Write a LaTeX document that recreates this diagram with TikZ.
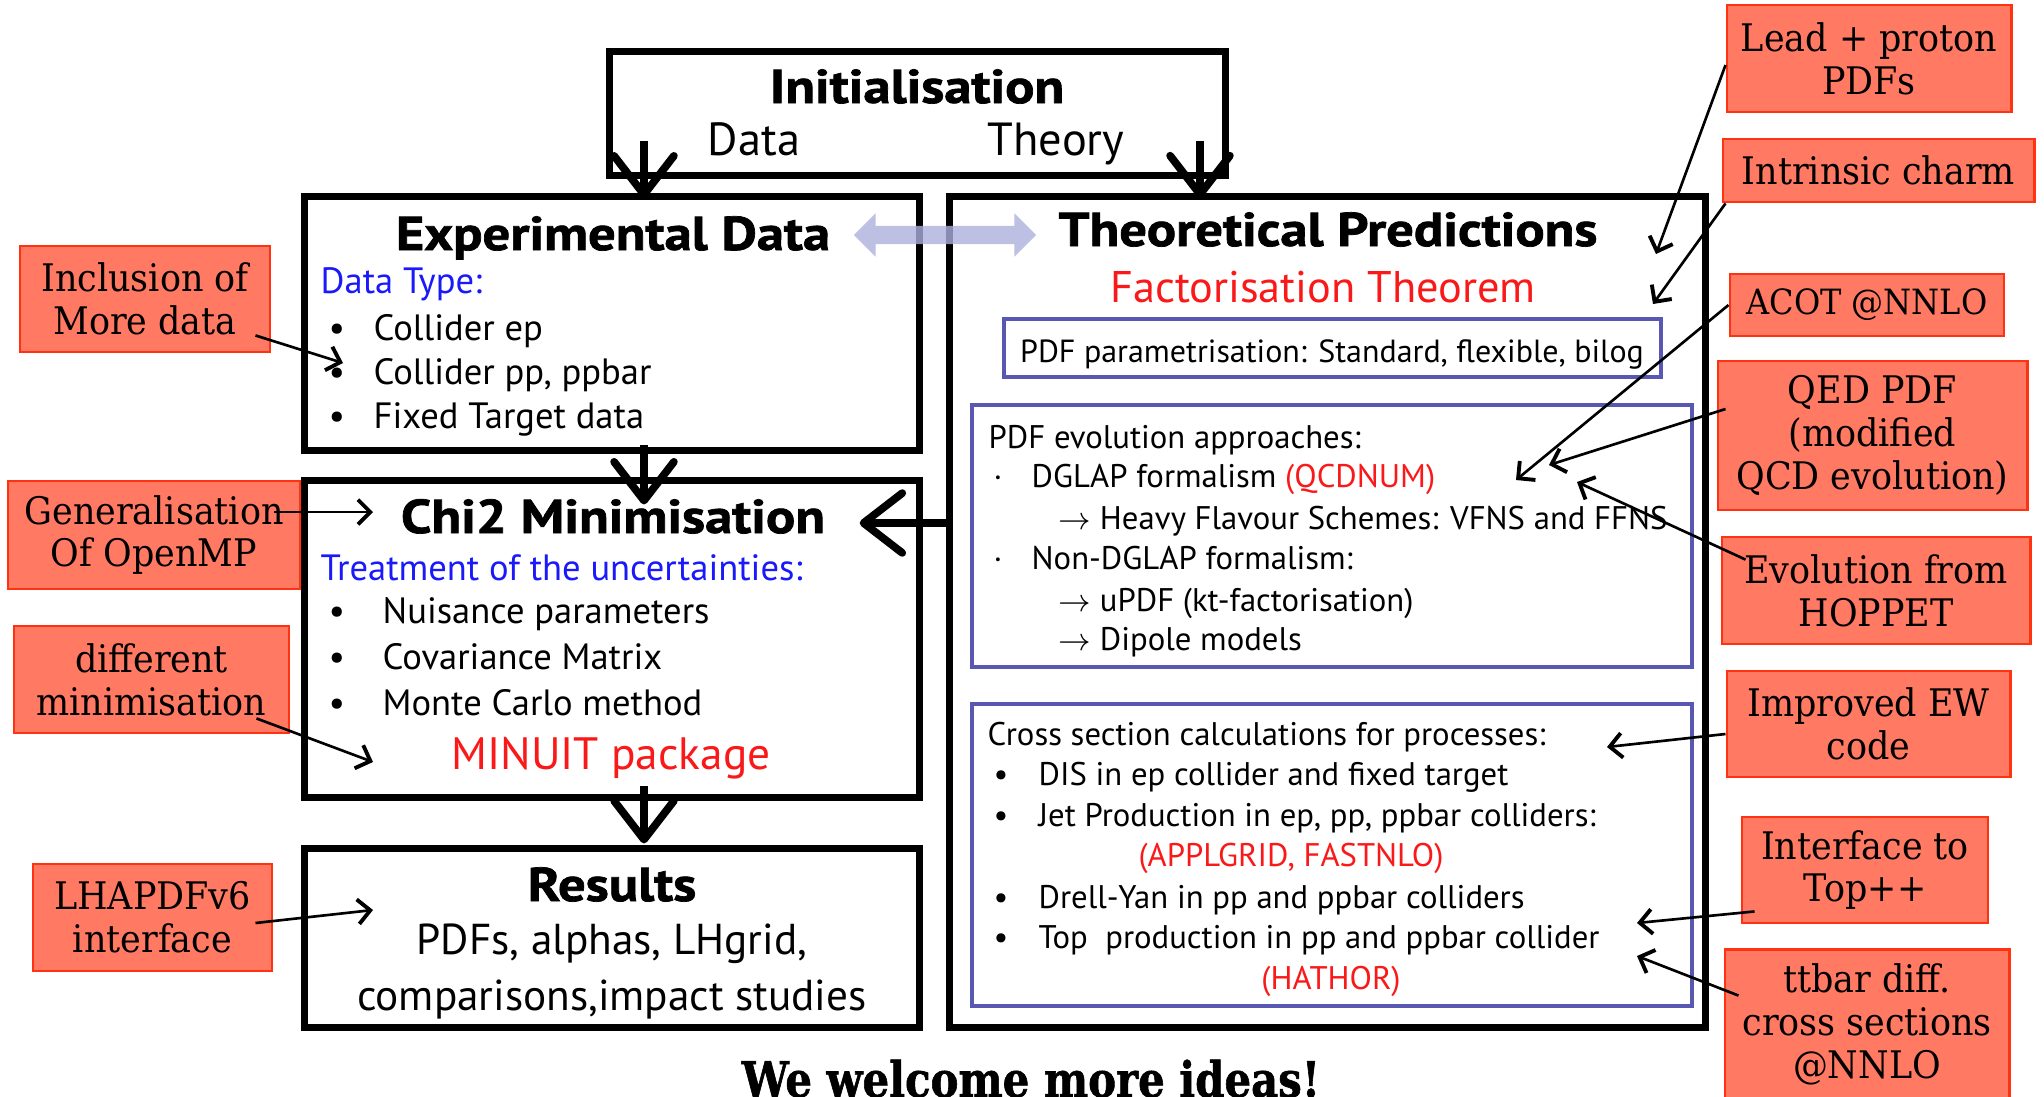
\documentclass[tikz,border=0pt]{standalone}
\usepackage{fontspec}
\setmainfont{PT Sans}
\newfontfamily\heavyfont{PT Sans}[FakeStretch=1.15, BoldFeatures={FakeBold=1.5}]
\newfontfamily\notefont{DejaVu Serif}[FakeStretch=0.92]
\newfontfamily\slabfont{DejaVu Serif}[FakeStretch=0.85, BoldFeatures={FakeBold=1.2}]
\usetikzlibrary{arrows.meta,shapes.arrows,calc}

\definecolor{notefill}{RGB}{255,121,99}
\definecolor{noteline}{RGB}{255,51,17}
\definecolor{framblue}{RGB}{88,88,178}
\definecolor{linkblue}{RGB}{172,176,220}
\definecolor{txtblue}{RGB}{25,25,250}
\definecolor{txtred}{RGB}{250,25,25}

\tikzset{
	mainbox/.style={draw, line width=2pt, inner sep=0pt},
	subbox/.style={draw=framblue, line width=1pt, inner sep=0pt},
	note/.style={draw=noteline, fill=notefill, line width=0.8pt, inner sep=0pt, align=center,
		font=\notefont\fontsize{10.8}{12.2}\selectfont},
	head/.style={anchor=base, inner sep=0pt, font=\heavyfont\bfseries\fontsize{13.5}{16}\selectfont},
	txt/.style={anchor=base west, inner sep=0pt, font=\fontsize{9.3}{11}\selectfont},
	bigtxt/.style={txt, font=\fontsize{10.4}{12}\selectfont},
	flow/.style={line width=2.2pt, -{Straight Barb[length=11pt,width=17pt,round]}},
	pointer/.style={line width=0.75pt, -{Straight Barb[length=3.5pt,width=7pt,line width=1.1pt]}},
}

\begin{document}
\begin{tikzpicture}[x=0.01cm,y=-0.01cm]
	\useasboundingbox (0,0) rectangle (2044,1096);
	% flow boxes
	\node[mainbox, minimum width=6.15cm, minimum height=1.23cm] (init) at (917.5,113.5) {};
	\node[mainbox, minimum width=6.14cm, minimum height=2.53cm] (expdata) at (612,323.5) {};
	\node[mainbox, minimum width=7.55cm, minimum height=8.30cm] (theory) at (1327.5,612) {};
	\node[mainbox, minimum width=6.14cm, minimum height=3.16cm] (chi2) at (612,639) {};
	\node[mainbox, minimum width=6.14cm, minimum height=1.78cm] (results) at (612,938) {};
	\node[subbox, minimum width=6.57cm, minimum height=0.58cm] (param) at (1332.5,348) {};
	\node[subbox, minimum width=7.20cm, minimum height=2.62cm] (evol) at (1332,536) {};
	\node[subbox, minimum width=7.20cm, minimum height=3.02cm] (xsec) at (1332,855) {};

	% titles
	\node[head] (inittitle) at (917,103) {Initialisation};
	\node[head, font=\fontsize{13.2}{15}\selectfont] (initdata) at (754,155) {Data};
	\node[head, font=\fontsize{13.2}{15}\selectfont] (inittheory) at (1056,155) {Theory};
	\node[head] (exptitle) at (613,250) {Experimental Data};
	\node[head] (thtitle) at (1328,246) {Theoretical Predictions};
	\node[head] (chititle) at (613,533) {Chi2 Minimisation};
	\node[head] (restitle) at (612,901) {Results};
	\node[head, font=\fontsize{12.6}{14}\selectfont, txtred] (fact) at (1323,302) {Factorisation Theorem};
	\node[head, font=\fontsize{9.1}{10}\selectfont] (paramtxt) at (1332,362) {PDF parametrisation: Standard, flexible, bilog};

	% experimental data
	\node[bigtxt, txtblue] (datatype) at (320,293) {Data Type:};
	\foreach \y/\t [count=\i] in {340/Collider ep, 384/{Collider pp, ppbar}, 428/Fixed Target data}
	{
		\node[bigtxt] (expbul\i) at (328,\y) {•};
		\node[bigtxt] (expitem\i) at (373,\y) {\t};
	}

	% pdf evolution
	\node[txt] (evolhead) at (988,448) {PDF evolution approaches:};
	\node[txt] (evoldot1) at (993,487) {·};
	\node[txt] (evolline1) at (1031,487) {DGLAP formalism \textcolor{txtred}{(QCDNUM)}};
	\node[txt] (evolline2) at (1058,529) {$\rightarrow$ Heavy Flavour Schemes: VFNS and FFNS};
	\node[txt] (evoldot2) at (993,569) {·};
	\node[txt] (evolline3) at (1031,569) {Non-DGLAP formalism:};
	\node[txt] (evolline4) at (1058,611) {$\rightarrow$ uPDF (kt-factorisation)};
	\node[txt] (evolline5) at (1058,650) {$\rightarrow$ Dipole models};

	% cross sections
	\node[txt] (xsechead) at (987,745) {Cross section calculations for processes:};
	\foreach \y/\t [count=\i] in {785/DIS in ep collider and fixed target, 826/{Jet Production in ep, pp, ppbar colliders:}, 908/Drell-Yan in pp and ppbar colliders, 948/Top\ \ production in pp and ppbar collider}
	{
		\node[txt] (xsecbul\i) at (993,\y) {•};
		\node[txt] (xsecitem\i) at (1038,\y) {\t};
	}
	\node[txt, anchor=base, txtred] (applgrid) at (1291,866) {(APPLGRID, FASTNLO)};
	\node[txt, anchor=base, txtred] (hathor) at (1331,989) {(HATHOR)};

	% chi2
	\node[bigtxt, txtblue] (treat) at (320,580) {Treatment of the uncertainties:};
	\foreach \y/\t [count=\i] in {623/Nuisance parameters, 669/Covariance Matrix, 715/Monte Carlo method}
	{
		\node[bigtxt] (chibul\i) at (328,\y) {•};
		\node[bigtxt] (chiitem\i) at (382,\y) {\t};
	}
	\node[head, font=\fontsize{12.9}{15}\selectfont, txtred] (minuit) at (611,769) {MINUIT package};

	% results
	\node[head, font=\fontsize{12.3}{14}\selectfont] (resline1) at (612,954) {PDFs, alphas, LHgrid,};
	\node[head, font=\fontsize{12.3}{14}\selectfont] (resline2) at (612,1010) {comparisons,impact studies};

	\node[double arrow, fill=linkblue, fill opacity=0.8, inner sep=0pt, text height=0.085cm, text depth=0.085cm,
		minimum height=1.82cm, double arrow head extend=0.125cm] (link) at (945,235) {};

	% flow arrows
	\coordinate (spine) at (644,0);
	\coordinate (spinetwo) at (1200,0);
	\draw[flow] ($(init.south -| spine)+(0,-38)$) -- ($(expdata.north -| spine)+(0,5)$);
	\draw[flow] ($(init.south -| spinetwo)+(0,-38)$) -- ($(theory.north -| spinetwo)+(0,5)$);
	\draw[flow] ($(expdata.south -| spine)+(0,-9)$) -- ($(chi2.north -| spine)+(0,27)$);
	\draw[flow] ($(theory.west |- chititle.base)+(0,-10)$) -- ($(chi2.east |- chititle.base)+(-63,-10)$);
	\draw[flow] ($(chi2.south -| spine)+(0,-15)$) -- ($(results.north -| spine)+(0,-2)$);

	% ideas
	\node[note, minimum width=2.84cm, minimum height=1.07cm] (nlead) at (1869,58.5) {Lead + proton\\PDFs};
	\node[note, minimum width=3.11cm, minimum height=0.63cm] (ncharm) at (1878.5,170.5) {Intrinsic charm};
	\node[note, minimum width=2.74cm, minimum height=0.62cm, font=\notefont\fontsize{9.9}{12}\selectfont] (nacot) at (1867,305) {ACOT @NNLO};
	\node[note, minimum width=3.09cm, minimum height=1.49cm] (nqed) at (1872.5,435.5) {QED PDF\\(modified\\QCD evolution)};
	\node[note, minimum width=3.08cm, minimum height=1.07cm] (nhoppet) at (1876,590.5) {Evolution from\\HOPPET};
	\node[note, minimum width=2.83cm, minimum height=1.06cm] (nimpew) at (1868.5,724) {Improved EW\\code};
	\node[note, minimum width=2.46cm, minimum height=1.06cm] (ntop) at (1865,870) {Interface to\\Top++};
	\node[note, minimum width=2.84cm, minimum height=1.49cm] (nttbar) at (1867,1024) {ttbar diff.\\cross sections\\@NNLO};
	\node[note, minimum width=2.50cm, minimum height=1.06cm] (nmore) at (145,299) {Inclusion of\\More data};
	\node[note, minimum width=2.92cm, minimum height=1.08cm] (nomp) at (154,535) {Generalisation\\Of OpenMP};
	\node[note, minimum width=2.75cm, minimum height=1.07cm] (nminim) at (151.5,679.5) {different\\minimisation};
	\node[note, minimum width=2.39cm, minimum height=1.07cm] (nlhapdf) at (152.5,917.5) {LHAPDFv6\\interface};

	\coordinate (tlead) at (1656,254);
	\coordinate (tcharm) at (1653,304);
	\coordinate (tacot) at (1516,480);
	\coordinate (tqed) at (1549,465);
	\coordinate (thoppet) at (1577,482);
	\coordinate (timpew) at (1607,747);
	\coordinate (ttop) at (1637,923);
	\coordinate (tttbar) at (1637,956);
	\coordinate (tmore) at (343,363);
	\coordinate (tomp) at (373,512);
	\coordinate (tminim) at (373,762);
	\coordinate (tlhapdf) at (373,910);

	\draw[pointer] ([shift={(0,6.5)}]nlead.west) -- (tlead);
	\draw[pointer] ([shift={(4,0)}]ncharm.south west) -- (tcharm);
	\draw[pointer] (nacot.west) -- (tacot);
	\draw[pointer] ([shift={(9,-26.5)}]nqed.west) -- (tqed);
	\draw[pointer] ([shift={(25,24)}]nhoppet.north west) -- (thoppet);
	\draw[pointer] ([shift={(0,10)}]nimpew.west) -- (timpew);
	\draw[pointer] ([shift={(14,-13)}]ntop.south west) -- (ttop);
	\draw[pointer] ([shift={(15,47.5)}]nttbar.north west) -- (tttbar);
	\draw[pointer] ([shift={(-16,-18)}]nmore.south east) -- (tmore);
	\draw[pointer] ([shift={(-27,-23)}]nomp.east) -- (tomp);
	\draw[pointer] ([shift={(-34,-16)}]nminim.south east) -- (tminim);
	\draw[pointer] ([shift={(-18,5.5)}]nlhapdf.east) -- (tlhapdf);

	\node[anchor=base, inner sep=0pt, font=\slabfont\bfseries\fontsize{14}{17}\selectfont] (welcome) at (1031,1097) {We welcome more ideas!};
\end{tikzpicture}
\end{document}
